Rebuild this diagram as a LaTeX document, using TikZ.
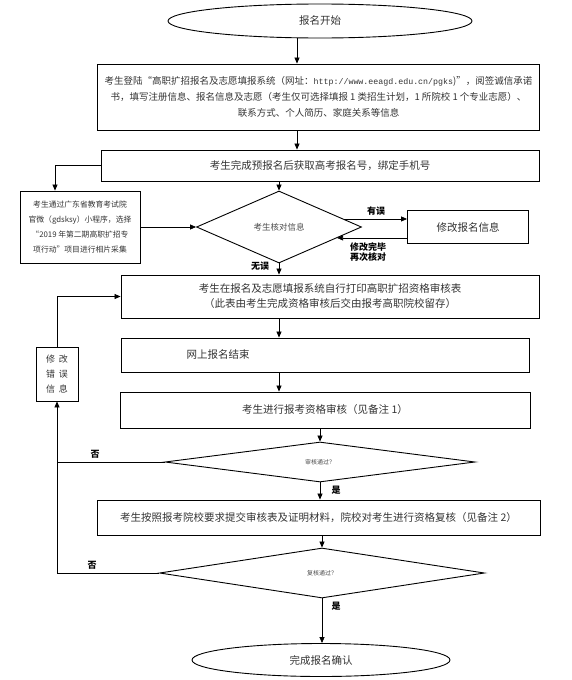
\documentclass[tikz,border=0pt]{standalone}
\usepackage{fontspec}
\setmainfont{Noto Sans CJK SC}
\newfontfamily\urlfont{Liberation Mono}
\usetikzlibrary{shapes.geometric,arrows.meta,calc}
\begin{document}
\begin{tikzpicture}[
    x=1pt, y=-1pt,
    block/.style={rectangle, draw, line width=0.9pt, inner sep=2pt, align=center, text=black!80, font=\fontsize{10.5}{15}\selectfont},
    terminal/.style={ellipse, draw, line width=0.9pt, inner sep=0pt, text=black!80, font=\fontsize{10.5}{15}\selectfont},
    decision/.style={diamond, draw, line width=0.9pt, inner sep=0pt, text=black!70},
    tag/.style={font=\bfseries\fontsize{9}{10}\selectfont, align=center},
    arrow/.style={-{Triangle[length=6pt,width=5pt]}, line width=0.7pt},
    link/.style={line width=0.7pt}
]
\useasboundingbox (0,0) rectangle (572,680);

% Start
\node[terminal, minimum width=304, minimum height=34] (start) at (320,21) {报名开始};

% Registration
\node[block, minimum width=442, minimum height=66, font=\fontsize{9.5}{16}\selectfont] (reg) at (318.5,97)
    {考生登陆“高职扩招报名及志愿填报系统（网址：{\urlfont\fontsize{8.3}{16}\selectfont http://www.eeagd.edu.cn/pgks})”，阅签诚信承诺\\
     书，填写注册信息、报名信息及志愿（考生仅可选择填报 1 类招生计划，1 所院校 1 个专业志愿）、\\
     联系方式、个人简历、家庭关系等信息};

% Phone binding
\node[block, minimum width=438, minimum height=31] (phone) at (320,165.5) {考生完成预报名后获取高考报名号，绑定手机号};

% Photo
\node[block, minimum width=120, minimum height=72, font=\fontsize{7.8}{15}\selectfont] (photo) at (80,227)
    {考生通过广东省教育考试院\\官微（gdsksy）小程序，选择\\“2019 年第二期高职扩招专\\项行动”项目进行相片采集};

% Check
\node[decision, minimum width=165, minimum height=72, font=\fontsize{8.5}{10}\selectfont] (check) at (279,227) {考生核对信息};
\node[block, minimum width=121, minimum height=33] (fix) at (468,227) {修改报名信息};

% Print
\node[block, minimum width=418, minimum height=43] (print) at (330,296.5)
    {考生在报名及志愿填报系统自行打印高职扩招资格审核表\\（此表由考生完成资格审核后交由报考高职院校留存）};

% Correct errors
\node[block, minimum width=42, minimum height=54, font=\fontsize{9}{15}\selectfont] (fixerr) at (57,374)
    {修\hspace{4pt}改\\错\hspace{4pt}误\\信\hspace{4pt}息};

% Online end
\node[block, minimum width=408, minimum height=34] (done) at (325,355) {};
\node[text=black!80, font=\fontsize{10.5}{15}\selectfont] (donetext) at (218,355) {网上报名结束};

% Review
\node[block, minimum width=410, minimum height=36] (review) at (325,410) {考生进行报考资格审核（见备注 1）};
\node[decision, minimum width=310, minimum height=40, font=\fontsize{6}{7}\selectfont] (pass1) at (320,462) {审核通过？};

% Recheck
\node[block, minimum width=443, minimum height=35] (recheck) at (318.5,517.5)
    {考生按照报考院校要求提交审核表及证明材料，院校对考生进行资格复核（见备注 2）};
\node[decision, minimum width=325, minimum height=50, font=\fontsize{6}{7}\selectfont] (pass2) at (322,573) {复核通过？};

% Finish
\node[terminal, minimum width=258, minimum height=33] (final) at (321,660) {完成报名确认};

% Arrows
\draw[arrow] ([xshift=-23pt]start.south) -- ([xshift=-23pt]start.south |- reg.north);
\draw[arrow] ([xshift=-23pt]start.south |- reg.south) -- ([xshift=-23pt]start.south |- phone.north);
\draw[arrow] (check.north |- phone.south) -- (check.north);
\draw[arrow] (phone.west) -| ([xshift=-25pt]photo.north);
\draw[arrow] (photo.east) -- (check.west);

\coordinate (errout) at ($(check.east)!0.22!(check.north)$);
\coordinate (errback) at ($(check.east)!0.3!(check.south)$);
\draw[arrow] (errout) -- (errout -| fix.west);
\draw[arrow] (errback -| fix.west) -- (errback);
\node[tag] (wrong) at (376,211) {有误};
\node[tag, font=\bfseries\fontsize{9}{10}\selectfont] (again) at (368,252) {修改完毕\\再次核对};

\draw[arrow] (check.south) -- (check.south |- print.north);
\node[tag] (right) at (260,266) {无误};
\draw[arrow] (check.south |- print.south) -- (check.south |- done.north);
\draw[arrow] (check.south |- done.south) -- (check.south |- review.north);
\draw[arrow] (pass1.north |- review.south) -- (pass1.north);
\draw[arrow] (pass1.south) -- (pass1.south |- recheck.north);
\node[tag] (yes1) at (336,490) {是};
\draw[arrow] (pass2.north |- recheck.south) -- (pass2.north);
\draw[arrow] (pass2.south) -- (pass2.south |- final.north);
\node[tag] (yes2) at (336,606) {是};

% Back to correction
\draw[link] (pass1.west) -- (pass1.west -| fixerr.south);
\node[tag] (no1) at (95,454) {否};
\draw[arrow] (pass2.west) -- (pass2.west -| fixerr.south) -- (fixerr.south);
\node[tag] (no2) at (92,565) {否};
\draw[arrow] (fixerr.north) |- (print.west);

\end{tikzpicture}
\end{document}
